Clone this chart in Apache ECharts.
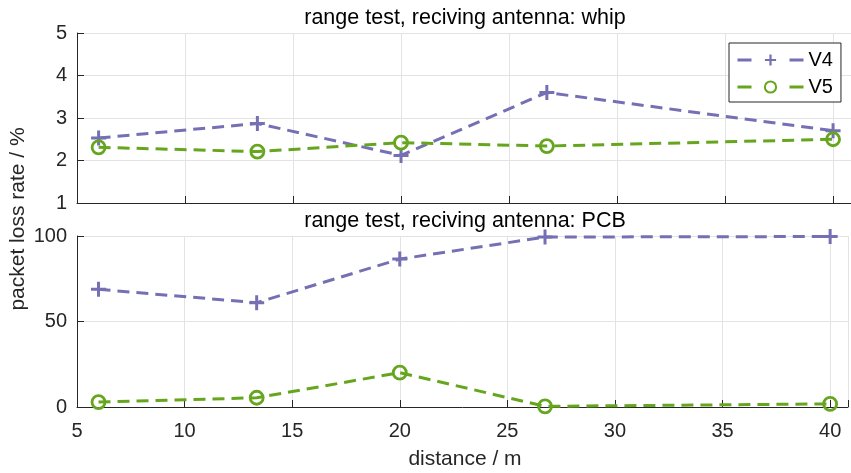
<!DOCTYPE html>
<html><head><meta charset="utf-8">
<script src="https://cdn.jsdelivr.net/npm/echarts@6/dist/echarts.min.js"></script>
<style>html,body{margin:0;padding:0;background:#fff}#c{width:851px;height:473px}</style>
</head><body><div id="c"></div>
<script>
const distance = [6, 13.35, 20, 26.75, 40];
const whipV4 = [2.53, 2.87, 2.12, 3.6, 2.7];
const whipV5 = [2.31, 2.21, 2.42, 2.34, 2.5];
const pcbV4 = [68.8, 61, 86.5, 99.4, 99.7];
const pcbV5 = [2.9, 5.4, 20.1, 0.4, 1.8];
const xTicks = [5, 10, 15, 20, 25, 30, 35, 40];
const titles = ['range test, reciving antenna: whip', 'range test, reciving antenna: PCB'];

const C4 = '#7570b3', C5 = '#66a61e', AX = '#262626';
const FONT = 'Liberation Sans, Arial, sans-serif';
const plus = 'path://M-1,-0.2L-0.2,-0.2L-0.2,-1L0.2,-1L0.2,-0.2L1,-0.2L1,0.2L0.2,0.2L0.2,1L-0.2,1L-0.2,0.2L-1,0.2Z';

function pairs(ys){ return distance.map((x,i)=>[x, ys[i]]); }
function xAxis(idx, showLabels){
  return {
    type:'value', gridIndex: idx, min: 5, max: 40.83, interval: 5,
    axisLine:{show:true, onZero:false, lineStyle:{color:AX, width:1}},
    axisTick:{show:true, inside:true, length:7, lineStyle:{color:AX}},
    axisLabel:{show:showLabels, color:AX, fontSize:20, fontFamily:FONT, margin:14,
      formatter: v => xTicks.indexOf(v) >= 0 ? String(v) : ''},
    splitLine:{show:true, lineStyle:{color:'#e3e3e3', width:1}}
  };
}
function yAxis(idx, min, max, interval){
  return {
    type:'value', gridIndex: idx, min, max, interval,
    axisLine:{show:true, lineStyle:{color:AX, width:1}},
    axisTick:{show:true, inside:true, length:7, lineStyle:{color:AX}},
    axisLabel:{color:AX, fontSize:20, fontFamily:FONT, margin:10},
    splitLine:{show:true, lineStyle:{color:'#e3e3e3', width:1}}
  };
}
function ser(name, data, color, idx, sym){
  const circle = sym === 'circle';
  return {
    name, type:'line', xAxisIndex: idx, yAxisIndex: idx, data,
    symbol: circle ? 'circle' : plus, symbolSize: circle ? 13 : 15,
    showAllSymbol:true,
    lineStyle:{color, width:3, type:[12,7]},
    itemStyle: circle ? {color:'rgba(255,255,255,0)', borderColor:color, borderWidth:2.8} : {color, borderWidth:0},
    z: 3, animation:false
  };
}
const chart = echarts.init(document.getElementById('c'), null, {renderer:'canvas'});
chart.setOption({
  animation:false,
  grid:[
    {left:77, top:33, right:0, height:170},
    {left:77, top:236, right:0, height:171}
  ],
  xAxis:[xAxis(0,false), xAxis(1,true)],
  yAxis:[yAxis(0,1,5,1), yAxis(1,0,100,50)],
  legend:{
    data:['V4','V5'], orient:'vertical', left:729, top:43,
    itemWidth:66, itemHeight:14, itemGap:7,
    padding:[7,8,5,7], borderColor:AX, borderWidth:1, backgroundColor:'#fff',
    lineStyle:{type:[14,38], width:3},
    textStyle:{fontSize:20, color:'#000', fontFamily:FONT}
  },
  series:[
    ser('V4', pairs(whipV4), C4, 0, 'plus'),
    ser('V5', pairs(whipV5), C5, 0, 'circle'),
    ser('V4', pairs(pcbV4), C4, 1, 'plus'),
    ser('V5', pairs(pcbV5), C5, 1, 'circle')
  ],
  graphic:[
    {type:'text', x:465, y:7, z:10, style:{text:titles[0], fontSize:21.5, fontFamily:FONT, fill:'#000', textAlign:'center', textVerticalAlign:'top'}},
    {type:'text', x:465, y:210, z:10, style:{text:titles[1], fontSize:21.5, fontFamily:FONT, fill:'#000', textAlign:'center', textVerticalAlign:'top'}},
    {type:'text', x:465, y:449, style:{text:'distance / m', fontSize:21, fontFamily:FONT, fill:AX, textAlign:'center', textVerticalAlign:'top'}},
    {type:'text', rotation:Math.PI/2, x:18, y:219, style:{text:'packet loss rate / %', fontSize:21, fontFamily:FONT, fill:AX, textAlign:'center', textVerticalAlign:'middle'}}
  ]
});
</script></body></html>
